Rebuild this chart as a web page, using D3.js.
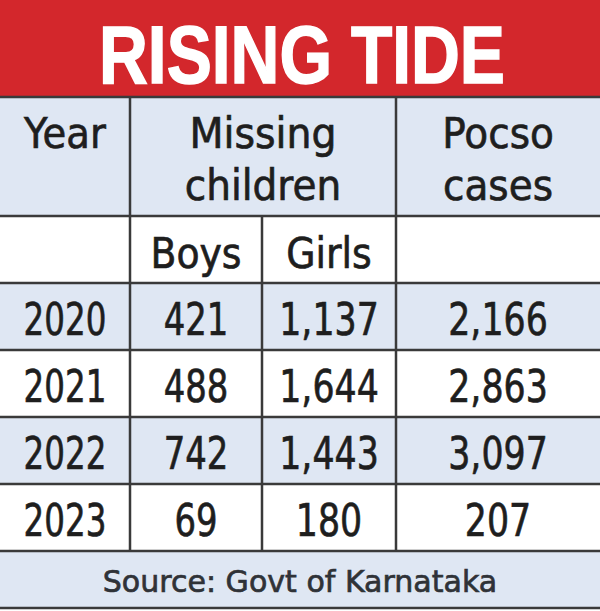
<!DOCTYPE html>
<html>
<head>
<meta charset="utf-8">
<script src="https://cdn.jsdelivr.net/npm/d3@7"></script>
<style>
  body { margin: 0; background: #fff; }
  svg { display: block; }
</style>
</head>
<body>
<div id="chart"></div>
<script>
// Rising Tide - missing children and Pocso cases table

// data
var title = 'RISING TIDE';
var source = 'Source: Govt of Karnataka';
var years = ['2020', '2021', '2022', '2023'];
var boys = [421, 488, 742, 69];
var girls = [1137, 1644, 1443, 180];
var pocso = [2166, 2863, 3097, 207];

var width = 600, height = 611;
var red = '#d3272c', blue = '#dfe7f3', ink = '#1e1e1e', line = '#3a3a3a';
var fmt = d3.format(',');

var svg = d3.select('#chart').append('svg')
    .attr('width', width)
    .attr('height', height);

// column edges
var colX = [0, 130, 262, 396, width];
var colMid = function (i) { return (colX[i] + colX[i + 1]) / 2; };

// rows through a band scale
var y = d3.scaleBand()
    .domain(years)
    .range([283, 551])
    .paddingInner(0);

// backgrounds
svg.append('rect').attr('x', 0).attr('y', 0).attr('width', width).attr('height', 97).attr('fill', red);
svg.append('rect').attr('x', 0).attr('y', 97).attr('width', width).attr('height', 119).attr('fill', blue);
svg.selectAll('.rowbg')
    .data(years)
  .enter().append('rect')
    .attr('class', 'rowbg')
    .attr('x', 0)
    .attr('y', function (d) { return y(d); })
    .attr('width', width)
    .attr('height', y.bandwidth())
    .attr('fill', function (d, i) { return i % 2 === 0 ? blue : '#fff'; });
svg.append('rect').attr('x', 0).attr('y', 551).attr('width', width).attr('height', 57).attr('fill', blue);

// title
svg.append('text')
    .attr('x', 302).attr('y', 83)
    .attr('text-anchor', 'middle')
    .attr('textLength', 406)
    .attr('lengthAdjust', 'spacingAndGlyphs')
    .style('font-family', '"Liberation Sans Narrow", "Liberation Sans", Arial, sans-serif')
    .style('font-weight', 'bold')
    .style('font-size', '82px')
    .attr('fill', '#fff')
    .attr('stroke', '#fff')
    .attr('stroke-width', 1.5)
    .text(title);

// text helper, squeezed horizontally like the print font
var addText = function (x, yy, txt, size, sx, col) {
  svg.append('text')
      .attr('transform', 'translate(' + x + ',' + yy + ') scale(' + sx + ',1)')
      .attr('text-anchor', 'middle')
      .style('font-family', '"DejaVu Sans", Verdana, sans-serif')
      .style('font-size', size + 'px')
      .attr('fill', col || ink)
      .attr('stroke', col || ink)
      .attr('stroke-width', 0.7)
      .text(txt);
};

// header
addText(colMid(0), 148, 'Year', 42, 0.92);
addText((colX[1] + colX[3]) / 2, 148, 'Missing', 42, 0.94);
addText((colX[1] + colX[3]) / 2, 200, 'children', 42, 0.93);
addText(colMid(3), 148, 'Pocso', 42, 0.93);
addText(colMid(3), 200, 'cases', 42, 0.93);
addText(colMid(1), 268, 'Boys', 42, 0.9);
addText(colMid(2), 268, 'Girls', 42, 0.9);

// data rows
years.forEach(function (yr, i) {
  var base = y(yr) + y.bandwidth() / 2 + 18;
  addText(colMid(0), base, yr, 44, 0.74);
  addText(colMid(1), base, fmt(boys[i]), 44, 0.77);
  addText(colMid(2), base, fmt(girls[i]), 44, 0.79);
  addText(colMid(3), base, fmt(pocso[i]), 44, 0.79);
});

// footer
addText(width / 2, 592, source, 31, 0.97, '#2f3237');

// grid lines
var hLines = [97, 216, 283].concat(years.map(function (d) { return y(d) + y.bandwidth(); })).concat([608]);
svg.selectAll('.hline')
    .data(hLines)
  .enter().append('line')
    .attr('x1', 0).attr('x2', width)
    .attr('y1', function (d) { return d; })
    .attr('y2', function (d) { return d; })
    .attr('stroke', line)
    .attr('stroke-width', 2.5);

var vLines = [
  {x: colX[1], y1: 97, y2: 551},
  {x: colX[2], y1: 216, y2: 551},
  {x: colX[3], y1: 97, y2: 551}
];
svg.selectAll('.vline')
    .data(vLines)
  .enter().append('line')
    .attr('x1', function (d) { return d.x; })
    .attr('x2', function (d) { return d.x; })
    .attr('y1', function (d) { return d.y1; })
    .attr('y2', function (d) { return d.y2; })
    .attr('stroke', line)
    .attr('stroke-width', 2.5);
</script>
</body>
</html>
